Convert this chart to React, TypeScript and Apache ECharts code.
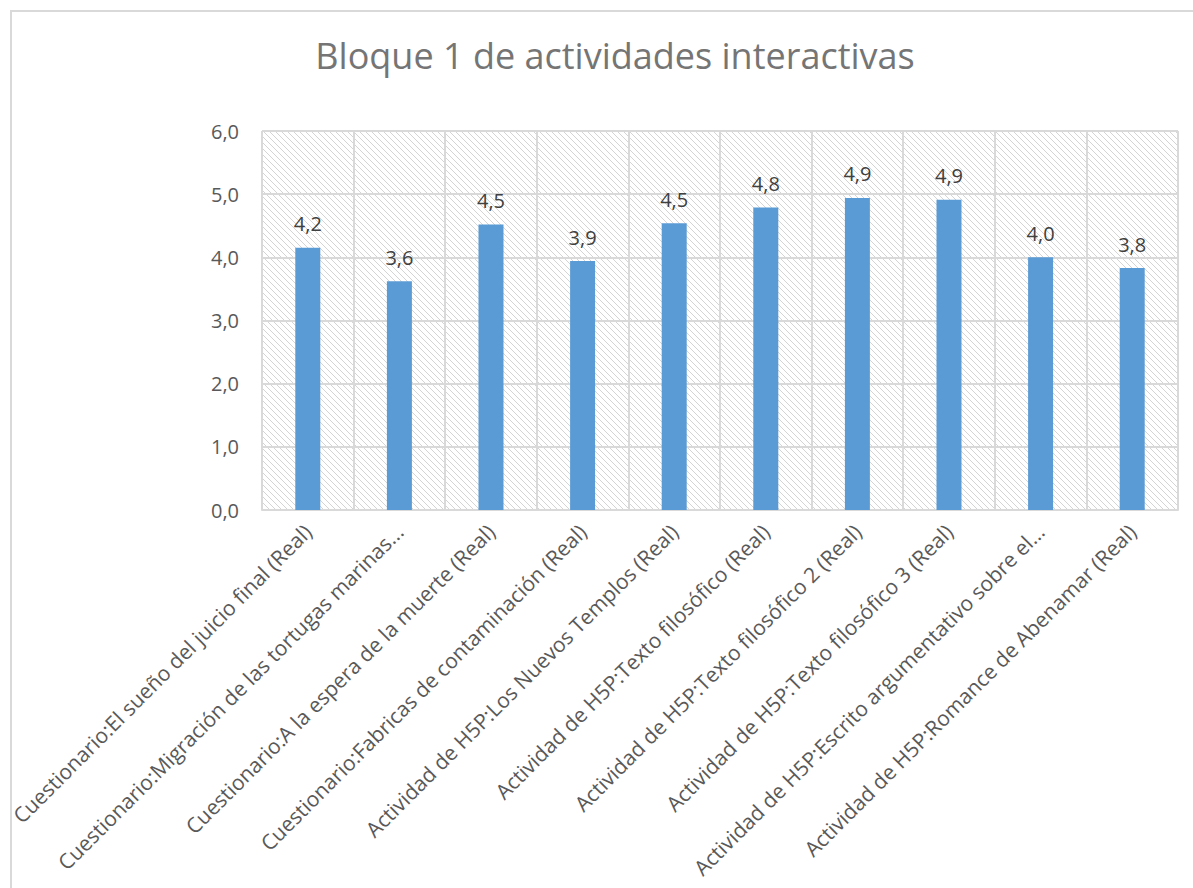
import React, { useEffect, useRef } from "react";
import * as echarts from "echarts";

const titleText = "Bloque 1 de actividades interactivas";

const categories = [
  "Cuestionario:El sueño del juicio final (Real)",
  "Cuestionario:Migración de las tortugas marinas...",
  "Cuestionario:A la espera de la muerte (Real)",
  "Cuestionario:Fabricas de contaminación (Real)",
  "Actividad de H5P:Los Nuevos Templos (Real)",
  "Actividad de H5P:Texto filosófico (Real)",
  "Actividad de H5P:Texto filosófico 2 (Real)",
  "Actividad de H5P:Texto filosófico 3 (Real)",
  "Actividad de H5P:Escrito argumentativo sobre el...",
  "Actividad de H5P:Romance de Abenamar (Real)",
];

const values = [4.15, 3.62, 4.52, 3.94, 4.54, 4.79, 4.94, 4.91, 4.0, 3.83];

const yTicks = { min: 0, max: 6, interval: 1 };

function makeHatch(): HTMLCanvasElement {
  const c = document.createElement("canvas");
  const s = 6;
  c.width = s;
  c.height = s;
  const ctx = c.getContext("2d")!;
  ctx.fillStyle = "#ffffff";
  ctx.fillRect(0, 0, s, s);
  ctx.fillStyle = "#d4d4d4";
  for (let i = 0; i < s; i++) {
    ctx.fillRect(i, i, 1, 1);
  }
  return c;
}

const fmt = (v: number) => v.toFixed(1).replace(".", ",");

export default function App() {
  const ref = useRef<HTMLDivElement>(null);
  useEffect(() => {
    if (!ref.current) return;
    const chart = echarts.init(ref.current, undefined, { renderer: "svg" });
    const hatch = makeHatch();
    chart.setOption({
      animation: false,
      backgroundColor: "#ffffff",
      title: {
        text: titleText,
        left: 610,
        top: 32,
        textAlign: "center",
        textStyle: {
          fontFamily: "Open Sans",
          fontSize: 36,
          fontWeight: "normal",
          color: "#757575",
        },
      },
      graphic: [
        {
          type: "rect",
          shape: { x: 11, y: 11, width: 1300, height: 1000 },
          style: { fill: "none", stroke: "#d9d9d9", lineWidth: 2 },
          silent: true,
          z: -10,
        },
      ],
      grid: {
        left: 262,
        right: 15,
        top: 131,
        bottom: 378,
        show: true,
        borderWidth: 0,
        backgroundColor: { image: hatch, repeat: "repeat" },
      },
      xAxis: {
        type: "category",
        data: categories,
        axisLine: { show: true, lineStyle: { color: "#d9d9d9", width: 2 } },
        axisTick: { show: false },
        splitLine: { show: true, interval: 0, lineStyle: { color: "#d9d9d9", width: 2 } },
        axisLabel: {
          interval: 0,
          rotate: 45,
          margin: 18,
          fontFamily: "Open Sans",
          fontSize: 21,
          color: "#595959",
        },
      },
      yAxis: {
        type: "value",
        min: yTicks.min,
        max: yTicks.max,
        interval: yTicks.interval,
        axisLine: { show: false },
        axisTick: { show: false },
        splitLine: { show: true, lineStyle: { color: "#d9d9d9", width: 2 } },
        axisLabel: {
          margin: 23,
          fontFamily: "Open Sans",
          fontSize: 20,
          color: "#595959",
          formatter: (v: number) => fmt(v),
        },
      },
      series: [
        {
          type: "bar",
          data: values,
          barWidth: 25,
          itemStyle: { color: "#5b9bd5" },
          label: {
            show: true,
            position: "top",
            distance: 14,
            fontFamily: "Open Sans",
            fontSize: 20,
            color: "#404040",
            formatter: (p: any) => fmt(p.value),
          },
        },
      ],
    });
    return () => chart.dispose();
  }, []);
  return (
    <div
      ref={ref}
      style={{ position: "fixed", left: 0, top: 0, width: 1193, height: 888 }}
    />
  );
}
